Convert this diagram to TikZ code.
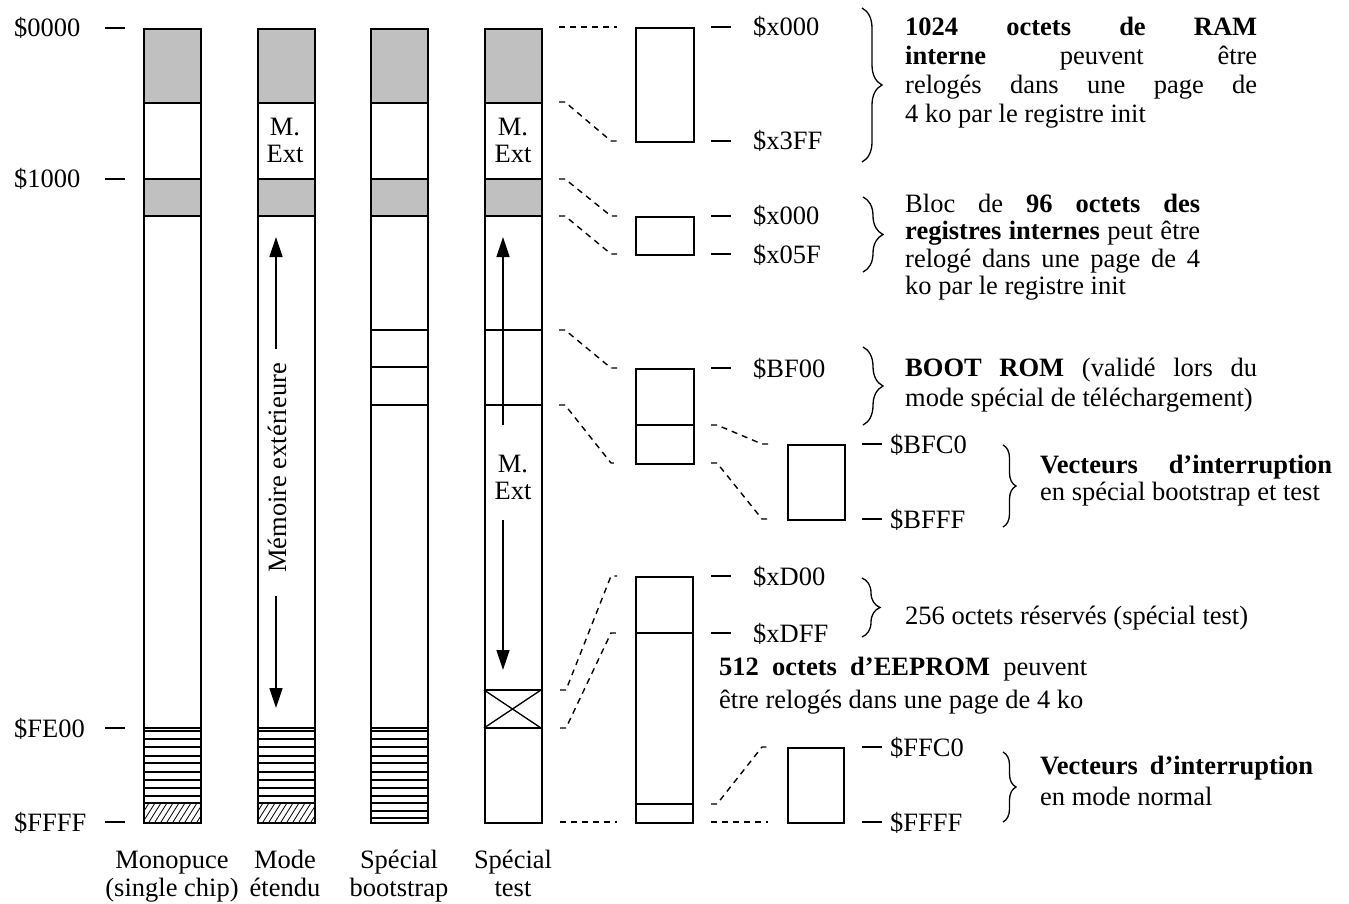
\documentclass[tikz,border=0pt]{standalone}
\usepackage{fontspec}
\setmainfont{Liberation Serif}
\usetikzlibrary{arrows.meta,decorations.pathreplacing}
\definecolor{memgray}{RGB}{192,192,192}
\newcommand{\mfs}{\fontsize{26.5}{29}\selectfont}
\newcommand{\dconn}[4]{\draw[conn] (#1,#2) -- ++(6,0) -- ({#3-6},#4) -- (#3,#4);}
\begin{document}
\begin{tikzpicture}[x=1pt,y=-1pt,
  outl/.style={line width=1.6pt},
  thinl/.style={line width=1.3pt},
  conn/.style={line width=1.4pt, dash pattern=on 6pt off 5pt},
  tickl/.style={line width=1.6pt},
  txt/.style={font=\mfs, inner sep=0pt},
  lb/.style={font=\mfs, inner sep=0pt, anchor=base west},
  cb/.style={font=\mfs, inner sep=0pt, anchor=base},
  brc/.style={decorate, decoration={brace, amplitude=#1}, line width=1.3pt},
  arr/.style={line width=1.4pt, -{Triangle[width=13pt,length=20pt]}},
  colbox/.style={draw, line width=1.6pt, minimum width=57pt, minimum height=794pt, anchor=north west, inner sep=0pt},
  membox/.style={draw, line width=1.6pt, anchor=north west, inner sep=0pt}
]
\useasboundingbox (0,0) rectangle (1349,904);
\fill[white] (0,0) rectangle (1349,904);

% ---- columns: fills and inner lines
\foreach \x in {143,257,370,484} {
  \fill[memgray] (\x,28) rectangle ++(57,75);
  \fill[memgray] (\x,179) rectangle ++(57,37);
  \draw[thinl] (\x,103) -- ++(57,0) (\x,179) -- ++(57,0) (\x,216) -- ++(57,0);
}
% hatching
\foreach \x in {143,257} {
  \begin{scope}
    \clip (\x,803) rectangle ++(57,19);
    \foreach \i in {-3,...,12} \draw[line width=0.8pt] (\x+\i*6,822) -- ++(12,-19);
  \end{scope}
}
\foreach \x in {143,257} \foreach \y in {728,731,739,747,756,763,772,780,788,796,803} \draw[thinl] (\x,\y) -- ++(57,0);
\foreach \y in {728,731,739,747,756,763,772,780,788,796,803,811,818} \draw[thinl] (370,\y) -- ++(57,0);
\foreach \y in {330,367,405} \draw[thinl] (370,\y) -- ++(57,0);
\foreach \y in {330,405,690,728} \draw[thinl] (484,\y) -- ++(57,0);
\draw[thinl] (484,690) -- (541,728) (484,728) -- (541,690);

\node[colbox] (c1) at (143,28) {};
\node[colbox] (c2) at (257,28) {};
\node[colbox] (c3) at (370,28) {};
\node[colbox] (c4) at (484,28) {};

% texts in columns
\node[cb] (m1a) at (285,136) {M.};
\node[cb] (m1b) at (285,163) {Ext};
\node[cb] (m2a) at (513,136) {M.};
\node[cb] (m2b) at (513,163) {Ext};
\node[cb] (m3a) at (513,472) {M.};
\node[cb] (m3b) at (513,499) {Ext};
\node[txt, rotate=90] (mem) at (277,468) {Mémoire extérieure};

% arrows
\draw[arr] (276,349) -- (276,237);
\draw[arr] (276,596) -- (276,708);
\draw[arr] (503,425) -- (503,237);
\draw[arr] (503,520) -- (503,670);

% left ticks and labels
\foreach \y in {28,179,728,822} \draw[tickl] (105,\y) -- (125,\y);
\node[lb] (a0) at (14,37) {\$0000};
\node[lb] (a1) at (14,188) {\$1000};
\node[lb] (a2) at (14,737) {\$FE00};
\node[lb] (a3) at (14,831) {\$FFFF};

% bottom labels
\node[cb] (l1a) at (172,868) {Monopuce};
\node[cb] (l1b) at (172,896) {(single chip)};
\node[cb] (l2a) at (285,868) {Mode};
\node[cb] (l2b) at (285,896) {étendu};
\node[cb] (l3a) at (399,868) {Spécial};
\node[cb] (l3b) at (399,896) {bootstrap};
\node[cb] (l4a) at (513,868) {Spécial};
\node[cb] (l4b) at (513,896) {test};

% ---- zoomed boxes
\node[membox, minimum width=58pt, minimum height=114pt] (b1) at (635,27) {};
\node[membox, minimum width=58pt, minimum height=38pt] (b2) at (635,216) {};
\node[membox, minimum width=58pt, minimum height=95pt] (b3) at (635,368) {};
\draw[thinl] (635,425) -- (693,425);
\node[membox, minimum width=57pt, minimum height=75pt] (b4) at (787,444) {};
\node[membox, minimum width=57pt, minimum height=246pt] (b5) at (635,576) {};
\draw[thinl] (635,633) -- (692,633) (635,804) -- (692,804);
\node[membox, minimum width=56pt, minimum height=75pt] (b6) at (787,747) {};

% dashed connectors
\draw[conn] (559,27) -- (617,27);
\dconn{559}{102}{617}{141}
\dconn{559}{179}{617}{216}
\dconn{559}{216}{617}{254}
\dconn{559}{330}{617}{368}
\dconn{559}{405}{617}{463}
\dconn{711}{425}{768}{444}
\dconn{711}{463}{768}{519}
\dconn{560}{690}{617}{576}
\dconn{560}{728}{617}{633}
\draw[conn] (560,822) -- (617,822);
\dconn{711}{804}{768}{747}
\draw[conn] (711,822) -- (768,822);

% right ticks and address labels
\foreach \y in {27,141,216,254,368,576,633} \draw[tickl] (711,\y) -- (731,\y);
\foreach \y in {444,519,747,822} \draw[tickl] (862,\y) -- (882,\y);
\node[lb] (r1) at (753,36) {\$x000};
\node[lb] (r2) at (753,150) {\$x3FF};
\node[lb] (r3) at (753,225) {\$x000};
\node[lb] (r4) at (753,263) {\$x05F};
\node[lb] (r5) at (753,377) {\$BF00};
\node[lb] (r6) at (890,453) {\$BFC0};
\node[lb] (r7) at (890,528) {\$BFFF};
\node[lb] (r8) at (753,585) {\$xD00};
\node[lb] (r9) at (753,642) {\$xDFF};
\node[lb] (r10) at (890,756) {\$FFC0};
\node[lb] (r11) at (890,831) {\$FFFF};

% braces
\draw[brc=20pt] (862,8) -- (862,162);
\draw[brc=20pt] (863,197) -- (863,272);
\draw[brc=20pt] (863,347) -- (863,425);
\draw[brc=13pt] (1003,445) -- (1003,527);
\draw[brc=18pt] (862,578) -- (862,637);
\draw[brc=13pt] (1003,752) -- (1003,822);

% descriptions
\node[lb] (t1a) at (905,36) {\hbox to 352pt{\textbf{1024}\hfill\textbf{octets}\hfill\textbf{de}\hfill\textbf{RAM}}};
\node[lb] (t1b) at (905,65) {\hbox to 352pt{\textbf{interne}\hfill peuvent\hfill être}};
\node[lb] (t1c) at (905,94) {\hbox to 352pt{relogés\hfill dans\hfill une\hfill page\hfill de}};
\node[lb] (t1d) at (905,123) {4 ko par le registre init};

\node[lb] (t2a) at (905,213) {\hbox to 295pt{Bloc\hfill de\hfill \textbf{96}\hfill\textbf{octets}\hfill\textbf{des}}};
\node[lb] (t2b) at (905,240) {\hbox to 295pt{\textbf{registres}\hfill\textbf{internes}\hfill peut\hfill être}};
\node[lb] (t2c) at (905,267) {\hbox to 295pt{relogé\hfill dans\hfill une\hfill page\hfill de\hfill 4}};
\node[lb] (t2d) at (905,294) {ko par le registre init};

\node[lb] (t3a) at (905,376) {\hbox to 352pt{\textbf{BOOT}\hfill\textbf{ROM}\hfill (validé\hfill lors\hfill du}};
\node[lb] (t3b) at (905,406) {mode spécial de téléchargement)};

\node[lb] (t4a) at (1040,473) {\hbox to 292pt{\textbf{Vecteurs}\hfill\textbf{d’interruption}}};
\node[lb] (t4b) at (1040,500) {en spécial bootstrap et test};

\node[lb] (t5) at (905,624) {256 octets réservés (spécial test)};

\node[lb] (t6a) at (719,675) {\hbox to 368pt{\textbf{512}\hfill\textbf{octets}\hfill\textbf{d’EEPROM}\hfill peuvent}};
\node[lb] (t6b) at (719,708) {être relogés dans une page de 4 ko};

\node[lb] (t7a) at (1040,774) {\hbox to 273pt{\textbf{Vecteurs}\hfill\textbf{d’interruption}}};
\node[lb] (t7b) at (1040,805) {en mode normal};
\end{tikzpicture}
\end{document}
